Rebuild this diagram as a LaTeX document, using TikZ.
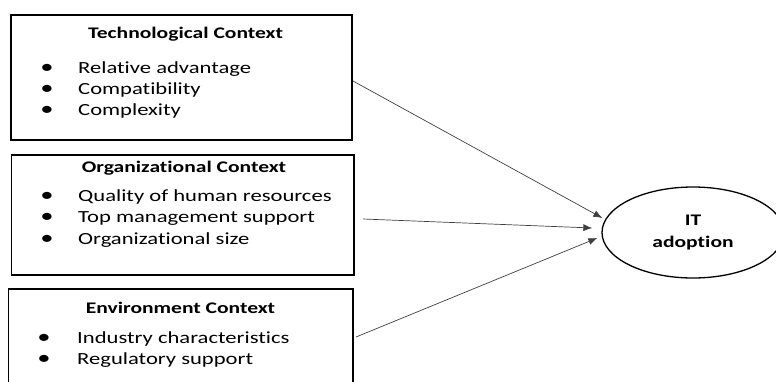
\documentclass[tikz,border=0pt]{standalone}
\usepackage{fontspec}
\newfontfamily\diagfont{Carlito}[FakeStretch=1.33, Ligatures=NoCommon]
\usepackage{tikz}
\usetikzlibrary{positioning}
\usetikzlibrary{calc}
\usetikzlibrary{arrows.meta}
\usetikzlibrary{shapes.geometric}

\begin{document}
\begin{tikzpicture}[x=1pt,y=-1pt,
    ctxbox/.style={draw, line width=1.6pt, rectangle, anchor=north west, inner sep=0pt, outer sep=0pt},
    ctxtitle/.style={font=\diagfont\fontsize{16.2}{20}\selectfont\bfseries, anchor=base, inner sep=0pt},
    ctxitem/.style={font=\diagfont\fontsize{17}{20}\selectfont, anchor=base west, inner sep=0pt},
    ctxdot/.style={font=\diagfont\fontsize{20}{20}\selectfont, anchor=base, inner sep=0pt},
    arr/.style={-{Latex[length=9pt,width=7pt]}, line width=0.7pt, black!75}]

\useasboundingbox (0,0) rectangle (776,381);

% Draw the three context boxes
\node[ctxbox, minimum width=341pt, minimum height=125pt] (tech) at (11,15) {};
\node[ctxbox, minimum width=342.5pt, minimum height=120pt] (org) at (11.5,155) {};
\node[ctxbox, minimum width=344.5pt, minimum height=120pt] (env) at (8.5,289) {};

% Titles
\node[ctxtitle] (tech-t) at (185.5,38) {Technological Context};
\node[ctxtitle] (org-t) at (184,172) {Organizational Context};
\node[ctxtitle] (env-t) at (180.5,313) {Environment Context};

% Bulleted factors
\foreach \txt [count=\i] in {Relative advantage, Compatibility, Complexity}
{
    \node[ctxdot] (tech-b\i) at (47,52+21*\i) {\textbullet};
    \node[ctxitem] (tech-\i) at (78,52+21*\i) {\txt};
}
\foreach \txt [count=\i] in {Quality of human resources, Top management support, Organizational size}
{
    \node[ctxdot] (org-b\i) at (47,179.5+21.5*\i) {\textbullet};
    \node[ctxitem] (org-\i) at (78,179.5+21.5*\i) {\txt};
}
\foreach \txt [count=\i] in {Industry characteristics, Regulatory support}
{
    \node[ctxdot] (env-b\i) at (44,322+21*\i) {\textbullet};
    \node[ctxitem] (env-\i) at (77,322+21*\i) {\txt};
}

% Outcome
\node[draw, ellipse, line width=1.3pt, minimum width=182pt, minimum height=91pt, inner sep=0pt,
      align=center, font=\diagfont\fontsize{16.2}{22}\selectfont\bfseries] (itad) at (693,232.5) {IT\\adoption};

% Arrows into the outcome
\draw[arr] ($(tech.east)+(1,3.5)$) -- ($(itad.west)+(1,-14.5)$);
\draw[arr] ($(org.east)+(9,4)$) -- ($(itad.west)+(-9,-4.5)$);
\draw[arr] ($(env.east)+(3,-12)$) -- ($(itad.west)+(-4,5.5)$);
\end{tikzpicture}
\end{document}
